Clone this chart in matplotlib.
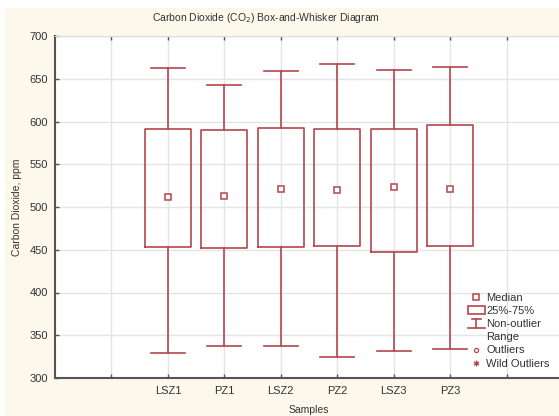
import matplotlib
matplotlib.use("Agg")
from matplotlib import pyplot as plt
from matplotlib.lines import Line2D
from matplotlib.patches import Rectangle
from matplotlib.legend_handler import HandlerBase

# values (ppm)
samples = ['LSZ1', 'PZ1', 'LSZ2', 'PZ2', 'LSZ3', 'PZ3']
medians = [512, 513, 521, 520, 523, 521]
q1 = [453, 452, 453, 454, 447, 454]
q3 = [591, 590, 592, 591, 591, 596]
whislo = [329, 337, 338, 324, 331, 334]
whishi = [663, 643, 659, 667, 660, 664]

red = '#b3474d'
cream = '#fdf8ec'

plt.rcParams['font.family'] = ['Liberation Sans', 'DejaVu Sans']

fig = plt.figure(figsize=(5.59, 4.16), dpi=100, facecolor='white')
# cream panel behind everything (thin white margin top/left as in the original)
fig.patches.append(Rectangle((5/559, 0), 1, 1 - 8/416, transform=fig.transFigure,
                             facecolor=cream, edgecolor='none', zorder=-10))

ax = fig.add_axes([55/559, 38/416, 508/559, 342/416])
ax.set_facecolor('white')

pos = list(range(2, 2 + len(samples)))
stats = []
for i in range(len(samples)):
    stats.append({'med': medians[i], 'q1': q1[i], 'q3': q3[i],
                  'whislo': whislo[i], 'whishi': whishi[i], 'fliers': []})

lp = dict(color=red, linewidth=1.2)
ax.bxp(stats, positions=pos, widths=0.82, capwidths=0.6, showfliers=False,
       boxprops=lp, whiskerprops=lp, capprops=lp,
       medianprops=dict(linestyle='none'), manage_ticks=False)
# median shown as small open square
ax.plot(pos, medians, 's', ls='none', ms=4, mfc='white', mec=red, mew=1.1, zorder=5)

ax.set_xlim(0, 9)
ax.set_ylim(300, 700)
ax.set_xticks(range(1, 9))
ax.set_xticklabels([''] + samples + [''])
ax.set_yticks(range(300, 701, 50))
ax.grid(True, color='#e4e4e4', linewidth=1)
ax.set_axisbelow(True)
ax.tick_params(direction='in', length=3, width=1, colors='#555555', labelcolor='#333333',
               labelsize=8, top=True, right=True)
ax.tick_params(axis='y', pad=5)
ax.tick_params(axis='x', pad=6)
for s in ['left', 'bottom']:
    ax.spines[s].set_color('#555555')
    ax.spines[s].set_linewidth(1.5)
ax.spines['top'].set_color('#dddddd')
ax.spines['right'].set_color('#dddddd')

fig.text(266/559, 1 - 18/416, 'Carbon Dioxide (CO$_2$) Box-and-Whisker Diagram',
         ha='center', va='center', fontsize=7.5, color='#333333')
fig.text(17/559, 1 - 207/416, 'Carbon Dioxide, ppm', rotation=90,
         ha='center', va='center', fontsize=7.5, color='#333333')
fig.text(309/559, 1 - 410/416, 'Samples', ha='center', va='center',
         fontsize=7.5, color='#333333')


class WhiskerHandler(HandlerBase):
    def create_artists(self, legend, orig_handle, xdescent, ydescent,
                       width, height, fontsize, trans):
        x0 = -xdescent
        cx = x0 + width / 2
        top = -ydescent + height * 1.0
        bot = -ydescent - height * 0.05
        arts = [Line2D([cx - width * 0.25, cx + width * 0.25], [top, top]),
                Line2D([cx, cx], [top, bot]),
                Line2D([x0, x0 + width], [bot, bot])]
        for a in arts:
            a.set_color(red)
            a.set_linewidth(1.2)
            a.set_transform(trans)
        return arts


h_med = Line2D([], [], marker='s', ls='none', ms=4, mfc='white', mec=red, mew=1.1)
h_box = Rectangle((0, 0), 1, 1, facecolor='white', edgecolor=red, linewidth=1.2)
h_whis = Line2D([], [])
h_blank = Line2D([], [], ls='none')
h_out = Line2D([], [], marker='o', ls='none', ms=3, mfc='white', mec=red, mew=0.9)
h_wild = Line2D([], [], marker=(6, 2, 0), ls='none', ms=4, mec=red, mew=0.9)

leg = fig.legend([h_med, h_box, h_whis, h_blank, h_out, h_wild],
                 ['Median', '25%-75%', 'Non-outlier', 'Range', 'Outliers', 'Wild Outliers'],
                 handler_map={h_whis: WhiskerHandler()},
                 loc='upper left', bbox_to_anchor=(468/559, 1 - 293/416),
                 frameon=False, fontsize=8, handlelength=1.5, handleheight=0.7,
                 handletextpad=0.15, labelspacing=0.28, borderpad=0, borderaxespad=0)
for t in leg.get_texts():
    t.set_color('#333333')

plt.savefig('out.png', dpi=100, facecolor=fig.get_facecolor())
